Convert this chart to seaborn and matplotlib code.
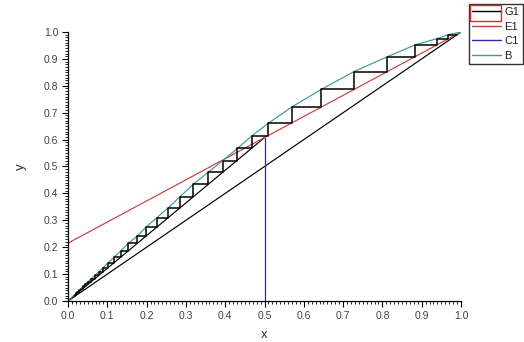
import matplotlib
matplotlib.use("Agg")
import matplotlib.pyplot as plt
from matplotlib.lines import Line2D
from matplotlib.patches import Rectangle
from matplotlib.ticker import MultipleLocator, FormatStrFormatter
import seaborn as sns

# ---- data ----
x_d = 0.99                      # top of staircase (distillate)
diag_x = [0.0, 1.0]
diag_y = [0.0, 1.0]
rect_x = [0.0, 1.0]             # E1: rectifying operating line
rect_y = [0.215, 1.0]
strip_x = [0.0, 0.5]            # stripping operating line
strip_y = [0.0, 0.6075]
feed_x = [0.5, 0.5]             # C1: q-line (vertical)
feed_y = [0.0, 0.6075]

# equilibrium curve (B)
eq_x = [0.0, 0.017, 0.033, 0.051, 0.078, 0.102, 0.134, 0.153, 0.176, 0.198, 0.226, 0.255,
        0.285, 0.319, 0.357, 0.394, 0.431, 0.467, 0.510, 0.569, 0.645, 0.728, 0.8125,
        0.883, 0.938, 0.968, 1.0]
eq_y = [0.0, 0.024, 0.046, 0.072, 0.108, 0.142, 0.186, 0.214, 0.241, 0.274, 0.310, 0.346,
        0.388, 0.434, 0.479, 0.522, 0.567, 0.613, 0.661, 0.721, 0.787, 0.853, 0.908,
        0.952, 0.975, 0.990, 1.0]

# G1: staircase stages (x on equilibrium curve, y levels of horizontals)
stage_x = [0.968, 0.938, 0.883, 0.8125, 0.728, 0.645, 0.569, 0.510, 0.467, 0.431, 0.394,
           0.357, 0.319, 0.285, 0.255, 0.226, 0.198, 0.176, 0.153, 0.134, 0.117, 0.102,
           0.089, 0.078, 0.068, 0.059, 0.051, 0.044, 0.038, 0.033, 0.028, 0.024, 0.020, 0.017]
stage_y = [0.990, 0.975, 0.952, 0.908, 0.853, 0.787, 0.721, 0.661, 0.613, 0.567, 0.522,
           0.479, 0.434, 0.388, 0.346, 0.310, 0.274, 0.241, 0.214, 0.186, 0.163, 0.142,
           0.124, 0.108, 0.095, 0.083, 0.072, 0.062, 0.054, 0.046, 0.040, 0.034, 0.029,
           0.024, 0.020]

legend_labels = ["G1", "E1", "C1", "B"]

# ---- style ----
sns.set_theme(style="ticks")
plt.rcParams['font.family'] = ['Liberation Sans', 'DejaVu Sans']

RED = "#c8403c"
BLUE = "#2a2ab8"
TEAL = "#3c9a96"

W, H = 524, 342
fig = plt.figure(figsize=(W / 100, H / 100), dpi=100)
ax = fig.add_axes([68 / W, 1 - 301 / H, 393 / W, 269 / H])

# staircase polyline built from stage values
sx = [x_d]
sy = [x_d]
for i in range(len(stage_x)):
    sx += [stage_x[i], stage_x[i]]
    sy += [stage_y[i], stage_y[i + 1]]

kw = dict(estimator=None, sort=False, ax=ax, legend=False)
sns.lineplot(x=diag_x, y=diag_y, color="black", lw=0.85, **kw)
sns.lineplot(x=strip_x, y=strip_y, color="black", lw=0.85, **kw)
sns.lineplot(x=rect_x, y=rect_y, color=RED, lw=0.85, **kw)
sns.lineplot(x=eq_x, y=eq_y, color=TEAL, lw=0.85, **kw)
sns.lineplot(x=sx, y=sy, color="black", lw=1.1, **kw)
sns.lineplot(x=feed_x, y=feed_y, color=BLUE, lw=0.9, **kw)

ax.set_xlim(0, 1)
ax.set_ylim(0, 1)
for side in ["top", "right"]:
    ax.spines[side].set_visible(False)
for side in ["left", "bottom"]:
    ax.spines[side].set_color("black")
    ax.spines[side].set_linewidth(0.9)

ax.xaxis.set_major_locator(MultipleLocator(0.1))
ax.yaxis.set_major_locator(MultipleLocator(0.1))
ax.xaxis.set_minor_locator(MultipleLocator(0.01))
ax.yaxis.set_minor_locator(MultipleLocator(0.01))
ax.xaxis.set_major_formatter(FormatStrFormatter("%.1f"))
ax.yaxis.set_major_formatter(FormatStrFormatter("%.1f"))
ax.tick_params(which="major", direction="out", length=4, width=0.8, color="black",
               labelsize=7.5, labelcolor="#404040", pad=3)
ax.tick_params(which="minor", direction="out", length=2, width=0.6, color="black")

ax.set_xlabel("x", fontsize=9.5, color="#303030", labelpad=6)
ax.set_ylabel("y", fontsize=9.5, color="#303030", labelpad=12)

handles = [Line2D([], [], color="black", lw=1.0),
           Line2D([], [], color=RED, lw=1.0),
           Line2D([], [], color=BLUE, lw=1.0),
           Line2D([], [], color=TEAL, lw=1.0)]
leg = fig.legend(handles, legend_labels, loc="upper left",
                 bbox_to_anchor=(469 / W, 1 - 4 / H), frameon=True, fancybox=False,
                 edgecolor="black", fontsize=8, handlelength=2.6, borderpad=0.3,
                 labelspacing=0.4, handletextpad=0.3, borderaxespad=0)
leg.get_frame().set_linewidth(1.0)
leg.set_zorder(5)
for t in leg.get_texts():
    t.set_color("#202020")

fig.add_artist(Rectangle((470 / W, 1 - 21 / H), 31 / W, 16 / H, transform=fig.transFigure,
                         fill=False, edgecolor="#d03030", lw=1.0, zorder=10))

fig.savefig("out.png", dpi=100)
